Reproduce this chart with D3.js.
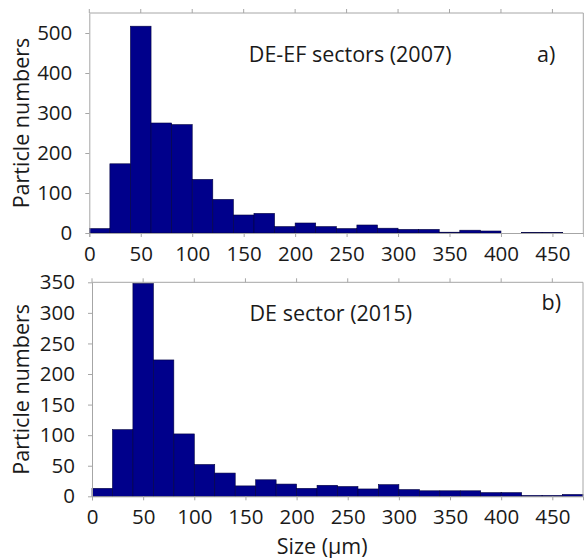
<!DOCTYPE html>
<html>
<head>
<meta charset="utf-8">
<script src="https://cdn.jsdelivr.net/npm/d3@7"></script>
<style>
  html, body { margin: 0; padding: 0; background: #fff; }
  svg { display: block; }
  text { font-family: "Open Sans", "DejaVu Sans", sans-serif; fill: #1a1a1a; }
</style>
</head>
<body>
<svg id="chart" width="584" height="558"></svg>
<script>
// ---- data ----
const binStarts = [0,20,40,60,80,100,120,140,160,180,200,220,240,260,280,300,320,340,360,380,400,420,440,460];
const binWidth = 20;
const counts2007 = [11,173,517,275,271,134,84,45,49,16,25,16,11,20,12,9,9,2,7,5,0,1,1,0];
const counts2015 = [13,109,348,223,102,52,38,17,27,20,13,18,16,12,19,11,9,9,9,6,6,1.5,1.5,3];
const xTicks = [0,50,100,150,200,250,300,350,400,450];
const yTicks2007 = [0,100,200,300,400,500];
const yTicks2015 = [0,50,100,150,200,250,300,350];
const panelA = {label: "DE-EF sectors (2007)", tag: "a)"};
const panelB = {label: "DE sector (2015)", tag: "b)"};
const yTitle = "Particle numbers";
const xTitle = "Size (\u03bcm)";

const svg = d3.select("#chart");
const axisColor = "#a6a6a6";
const barFill = "#00008b";
const barStroke = "#000040";
const tickFont = 20.5;
const textFont = 21.5;

function panel(cfg) {
  const x = d3.scaleLinear().domain([0, 480]).range([cfg.left, cfg.right]);
  const y = d3.scaleLinear().domain([0, cfg.ymax]).range([cfg.bottom, cfg.top]);
  const g = svg.append("g");

  // bars
  g.selectAll("rect.bar").data(cfg.counts.map((c, i) => ({x0: binStarts[i], c})))
    .enter().filter(d => d.c > 0).append("rect")
    .attr("class", "bar")
    .attr("x", d => x(d.x0))
    .attr("width", d => x(d.x0 + binWidth) - x(d.x0))
    .attr("y", d => y(d.c))
    .attr("height", d => y(0) - y(d.c))
    .attr("fill", barFill)
    .attr("stroke", barStroke)
    .attr("stroke-width", 0.6);

  // frame: top and right
  g.append("line").attr("x1", x(0)).attr("x2", x(480)).attr("y1", y(cfg.ymax)).attr("y2", y(cfg.ymax))
    .attr("stroke", axisColor).attr("stroke-width", 1);
  g.append("line").attr("x1", x(480)).attr("x2", x(480)).attr("y1", y(cfg.ymax)).attr("y2", y(0))
    .attr("stroke", axisColor).attr("stroke-width", 1);
  // top ticks (upwards)
  g.selectAll("line.tt").data(xTicks).enter().append("line")
    .attr("x1", d => x(d)).attr("x2", d => x(d))
    .attr("y1", y(cfg.ymax)).attr("y2", y(cfg.ymax) - 4)
    .attr("stroke", axisColor);

  // bottom axis
  const xAxis = d3.axisBottom(x).tickValues(xTicks).tickSize(4).tickPadding(9).tickFormat(d3.format("d"));
  const xa = g.append("g").attr("transform", `translate(0,${y(0)})`).call(xAxis);
  xa.select(".domain").attr("stroke", axisColor);
  xa.selectAll(".tick line").attr("stroke", axisColor);
  xa.selectAll(".tick text").attr("font-size", tickFont).attr("font-family", null).attr("fill", "#1a1a1a");

  // left axis
  const yAxis = d3.axisLeft(y).tickValues(cfg.yTicks).tickSize(4).tickPadding(13).tickSizeOuter(0);
  const ya = g.append("g").attr("transform", `translate(${x(0)},0)`).call(yAxis);
  ya.select(".domain").attr("stroke", axisColor);
  ya.selectAll(".tick line").attr("stroke", axisColor);
  ya.selectAll(".tick text").attr("font-size", tickFont).attr("font-family", null).attr("fill", "#1a1a1a");

  // y title
  g.append("text")
    .attr("transform", `translate(20,${(y(0) + y(cfg.ymax)) / 2}) rotate(-90)`)
    .attr("text-anchor", "middle").attr("dominant-baseline", "central")
    .attr("font-size", textFont)
    .text(yTitle);

  // annotations
  g.append("text").attr("x", x(cfg.labelPos[0])).attr("y", y(cfg.labelPos[1]))
    .attr("dominant-baseline", "central").attr("font-size", textFont).text(cfg.info.label);
  g.append("text").attr("x", x(cfg.tagPos[0])).attr("y", y(cfg.tagPos[1]))
    .attr("dominant-baseline", "central").attr("font-size", textFont).text(cfg.info.tag);
  return {x, y};
}

panel({left: 89.3, right: 583.3, top: 13, bottom: 233, ymax: 550, counts: counts2007,
       yTicks: yTicks2007, info: panelA, labelPos: [155, 450], tagPos: [435, 450]});
const pb = panel({left: 92, right: 583, top: 282.3, bottom: 496.3, ymax: 350, counts: counts2015,
       yTicks: yTicks2015, info: panelB, labelPos: [154, 300], tagPos: [439.5, 318]});

svg.append("text").attr("x", pb.x(225)).attr("y", 545)
  .attr("text-anchor", "middle").attr("dominant-baseline", "central")
  .attr("font-size", textFont).text(xTitle);
</script>
</body>
</html>
